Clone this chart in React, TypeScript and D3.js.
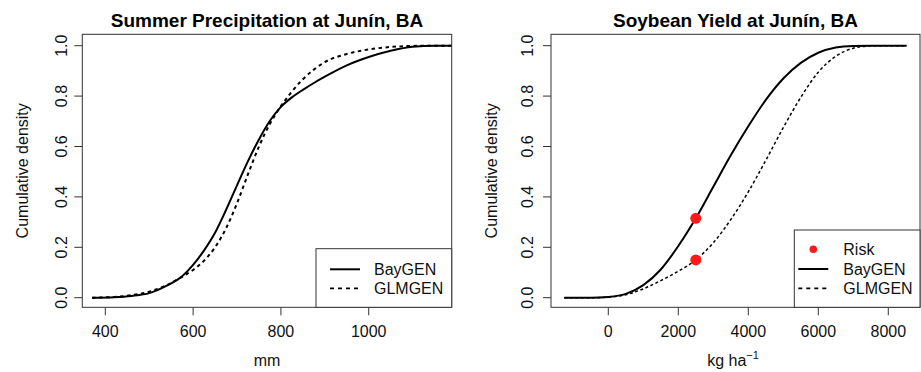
import React from "react";
import * as d3 from "d3";

// ---------- Data ----------
const precipX = [370, 420, 460, 500, 540, 575, 600, 625, 650, 675, 700, 725, 750, 775, 800, 825, 850, 875, 900, 950, 1000, 1050, 1100, 1150, 1189];
const precipBayGEN = [0, 0.002, 0.007, 0.018, 0.048, 0.085, 0.13, 0.188, 0.258, 0.348, 0.446, 0.542, 0.628, 0.702, 0.757, 0.795, 0.825, 0.852, 0.877, 0.922, 0.955, 0.98, 0.996, 1.0, 1.0];
const precipGLMGEN = [0, 0.003, 0.01, 0.024, 0.05, 0.083, 0.11, 0.147, 0.2, 0.275, 0.375, 0.49, 0.6, 0.69, 0.76, 0.818, 0.867, 0.905, 0.935, 0.967, 0.985, 0.995, 0.999, 1.0, 1.0];

const yieldX = [-1257, -500, 0, 500, 1000, 1500, 2000, 2500, 3000, 3500, 4000, 4500, 5000, 5500, 6000, 6500, 7000, 7500, 8000, 8526];
const yieldBayGEN = [0, 0.0, 0.003, 0.015, 0.05, 0.112, 0.205, 0.315, 0.44, 0.565, 0.68, 0.785, 0.87, 0.932, 0.972, 0.993, 0.999, 1.0, 1.0, 1.0];
const yieldGLMGEN = [0, 0.0, 0.002, 0.012, 0.035, 0.068, 0.105, 0.15, 0.218, 0.31, 0.42, 0.545, 0.675, 0.795, 0.895, 0.958, 0.99, 0.999, 1.0, 1.0];

const riskX = [2500, 2500];
const riskY = [0.315, 0.15];

const precipTicks = [400, 600, 800, 1000];
const yieldTicks = [0, 2000, 4000, 6000, 8000];
const yTicks = [0, 0.2, 0.4, 0.6, 0.8, 1.0];

const FONT = "'Liberation Sans', Arial, Helvetica, sans-serif";

type PanelProps = {
  x0: number; x1: number; y0: number; y1: number;
  xDomain: [number, number];
  xTicks: number[];
  title: string;
  xs: number[]; solid: number[]; dashed: number[];
  dashedWidth: number; dashArray: string;
  risk?: boolean;
  yLabelX: number; yTickLabelX: number;
  xLabel: React.ReactNode; xLabelX: number;
  legend: { x0: number; y0: number; rows: number[]; lineX0: number; lineX1: number; textX: number; dotX?: number };
};

function Panel(p: PanelProps) {
  const xs = d3.scaleLinear().domain(p.xDomain).range([p.x0, p.x1]);
  const ys = d3.scaleLinear().domain([-0.0381, 1.0452]).range([p.y1, p.y0]);
  const line = d3.line<[number, number]>().x(d => xs(d[0])).y(d => ys(d[1])).curve(d3.curveMonotoneX);
  const solidPts = p.xs.map((x, i) => [x, p.solid[i]] as [number, number]);
  const dashPts = p.xs.map((x, i) => [x, p.dashed[i]] as [number, number]);
  const cx = (p.x0 + p.x1) / 2;
  const cy = (p.y0 + p.y1) / 2;
  return (
    <g fontFamily={FONT}>
      <text x={cx} y={26.5} textAnchor="middle" fontSize={19} fontWeight="bold" fill="#000">{p.title}</text>
      <path d={line(dashPts) || ""} fill="none" stroke="#000" strokeWidth={p.dashedWidth} strokeDasharray={p.dashArray} />
      <path d={line(solidPts) || ""} fill="none" stroke="#000" strokeWidth={2} />
      {p.risk && riskX.map((rx, i) => (
        <circle key={i} cx={xs(rx)} cy={ys(riskY[i])} r={5.5} fill="#ff1a1a" />
      ))}
      <rect x={p.x0} y={p.y0} width={p.x1 - p.x0} height={p.y1 - p.y0} fill="none" stroke="#333" strokeWidth={1} />
      {p.xTicks.map(t => (
        <g key={t}>
          <line x1={xs(t)} x2={xs(t)} y1={p.y1} y2={p.y1 + 8} stroke="#333" />
          <text x={xs(t)} y={337} textAnchor="middle" fontSize={16} fill="#111">{t}</text>
        </g>
      ))}
      {yTicks.map(t => (
        <g key={t}>
          <line x1={p.x0 - 8} x2={p.x0} y1={ys(t)} y2={ys(t)} stroke="#333" />
          <text transform={`translate(${p.yTickLabelX},${ys(t)}) rotate(-90)`} textAnchor="middle" fontSize={16} fill="#111">{t.toFixed(1)}</text>
        </g>
      ))}
      <text transform={`translate(${p.yLabelX},${cy}) rotate(-90)`} textAnchor="middle" fontSize={16} fill="#111">Cumulative density</text>
      <text x={p.xLabelX} y={366} textAnchor="middle" fontSize={16} fill="#111">{p.xLabel}</text>
      {/* legend */}
      <rect x={p.legend.x0} y={p.legend.y0} width={p.x1 - p.legend.x0} height={p.y1 - p.legend.y0} fill="#fff" stroke="#333" strokeWidth={1} />
      {p.risk && (
        <>
          <circle cx={p.legend.dotX} cy={p.legend.rows[0]} r={3.8} fill="#ff1a1a" />
          <text x={p.legend.textX} y={p.legend.rows[0] + 5.8} fontSize={16} fill="#111">Risk</text>
        </>
      )}
      {(() => {
        const off = p.risk ? 1 : 0;
        const r1 = p.legend.rows[off];
        const r2 = p.legend.rows[off + 1];
        return (
          <>
            <line x1={p.legend.lineX0} x2={p.legend.lineX1} y1={r1} y2={r1} stroke="#000" strokeWidth={2} />
            <text x={p.legend.textX} y={r1 + 5.8} fontSize={16} fill="#111">BayGEN</text>
            <line x1={p.legend.lineX0} x2={p.legend.lineX1} y1={r2} y2={r2} stroke="#000" strokeWidth={1.8} strokeDasharray="4,4" />
            <text x={p.legend.textX} y={r2 + 5.8} fontSize={16} fill="#111">GLMGEN</text>
          </>
        );
      })()}
    </g>
  );
}

export default function App() {
  return (
    <svg width={921} height={372} style={{ position: "absolute", left: 0, top: 0, background: "#fff" }}>
      <rect x={0} y={0} width={921} height={372} fill="#fff" />
      <Panel
        x0={82.3} x1={451.7} y0={34.3} y1={307.3}
        xDomain={[347.6, 1189]}
        xTicks={precipTicks}
        title="Summer Precipitation at Junín, BA"
        xs={precipX} solid={precipBayGEN} dashed={precipGLMGEN}
        dashedWidth={2} dashArray="3.5,3.5"
        yLabelX={28.3} yTickLabelX={66.5}
        xLabel="mm" xLabelX={267}
        legend={{ x0: 316, y0: 248.7, rows: [269.3, 288.3], lineX0: 330, lineX1: 360, textX: 374 }}
      />
      <Panel
        x0={551} x1={920} y0={34.3} y1={307.3}
        xDomain={[-1637, 8906]}
        xTicks={yieldTicks}
        title="Soybean Yield at Junín, BA"
        xs={yieldX} solid={yieldBayGEN} dashed={yieldGLMGEN}
        dashedWidth={1.5} dashArray="3,2.5"
        risk
        yLabelX={496.6} yTickLabelX={533}
        xLabel={<>kg ha<tspan fontSize={11} dy={-7}>−1</tspan></>} xLabelX={733}
        legend={{ x0: 794.3, y0: 230, rows: [249.3, 269, 288.3], lineX0: 798.3, lineX1: 828.3, textX: 843.3, dotX: 813.3 }}
      />
    </svg>
  );
}
